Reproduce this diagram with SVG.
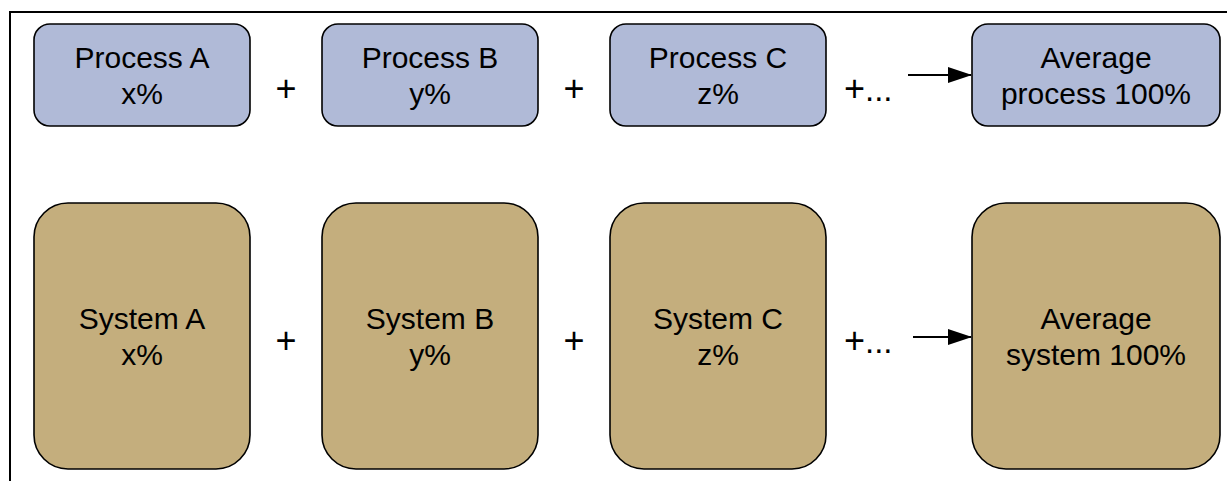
<svg xmlns="http://www.w3.org/2000/svg" width="1227" height="481" viewBox="0 0 1227 481">
<style>
.t{font-family:"Liberation Sans",Arial,sans-serif;font-size:30px;fill:#000;text-anchor:middle}
.p{font-family:"Liberation Sans",Arial,sans-serif;font-size:36px;fill:#000}
.d{font-size:33px}
.pl{font-family:"Liberation Sans",Arial,sans-serif;font-size:36px;fill:#000;text-anchor:middle}
.proc{fill:#B0BAD7;stroke:#000;stroke-width:1.6}
.sys{fill:#C4AE7D;stroke:#000;stroke-width:1.6}
.c{stroke:#000;stroke-width:2.2;fill:none}
</style>
<defs>
<marker id="ah" markerWidth="24" markerHeight="16" refX="23" refY="8" orient="auto" markerUnits="userSpaceOnUse">
<path d="M0,0 L24,8 L0,16 z" fill="#000"/>
</marker>
</defs>
<rect width="1227" height="481" fill="#fff"/>
<path d="M10,481 V12 H1227" fill="none" stroke="#000" stroke-width="2"/>
<g id="processA"><rect class="proc" x="34" y="24" width="216" height="102" rx="16"/><text class="t" x="142" y="68">Process A</text><text class="t" x="142" y="104">x%</text></g>
<g id="processB"><rect class="proc" x="322" y="24" width="216" height="102" rx="16"/><text class="t" x="430" y="68">Process B</text><text class="t" x="430" y="104">y%</text></g>
<g id="processC"><rect class="proc" x="610" y="24" width="216" height="102" rx="16"/><text class="t" x="718" y="68">Process C</text><text class="t" x="718" y="104">z%</text></g>
<g id="processAvg"><rect class="proc" x="972" y="24" width="248" height="102" rx="16"/><text class="t" x="1096" y="68">Average</text><text class="t" x="1096" y="104">process 100%</text></g>
<g id="systemA"><rect class="sys" x="34" y="203" width="216" height="266" rx="34"/><text class="t" x="142" y="329">System A</text><text class="t" x="142" y="365">x%</text></g>
<g id="systemB"><rect class="sys" x="322" y="203" width="216" height="266" rx="34"/><text class="t" x="430" y="329">System B</text><text class="t" x="430" y="365">y%</text></g>
<g id="systemC"><rect class="sys" x="610" y="203" width="216" height="266" rx="34"/><text class="t" x="718" y="329">System C</text><text class="t" x="718" y="365">z%</text></g>
<g id="systemAvg"><rect class="sys" x="972" y="203" width="248" height="266" rx="34"/><text class="t" x="1096" y="329">Average</text><text class="t" x="1096" y="365">system 100%</text></g>
<g id="operators">
<text class="pl" x="286" y="101">+</text><text class="pl" x="574" y="101">+</text><text class="p" x="844" y="101">+<tspan class="d">...</tspan></text>
<text class="pl" x="286" y="353">+</text><text class="pl" x="574" y="353">+</text><text class="p" x="844" y="353">+<tspan class="d">...</tspan></text>
</g>
<g id="connectors">
<line class="c" x1="908" y1="75" x2="971" y2="75" marker-end="url(#ah)"/>
<line class="c" x1="913" y1="337" x2="971" y2="337" marker-end="url(#ah)"/>
</g>
</svg>
